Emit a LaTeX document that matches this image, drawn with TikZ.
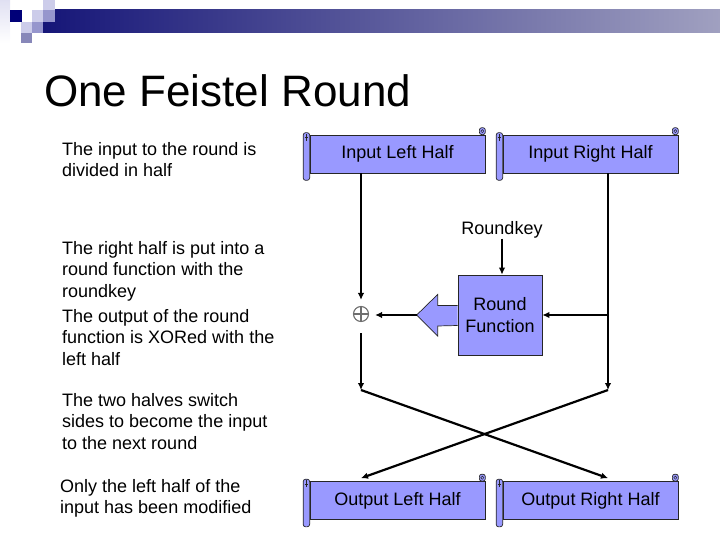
\documentclass[tikz,border=0pt]{standalone}
\usepackage{fontspec}
\setmainfont{Liberation Sans}
\usepackage{tikz}
\usetikzlibrary{arrows.meta, calc, backgrounds}
\usepackage{xcolor}
\definecolor{scrollblue}{RGB}{153,153,255}
\definecolor{barnavy}{RGB}{22,22,120}
\definecolor{bargray}{RGB}{160,160,192}
\definecolor{sqdark}{RGB}{0,0,120}
\definecolor{sqlight}{RGB}{204,204,234}
\definecolor{sqmid}{RGB}{150,150,205}
\definecolor{xorgray}{RGB}{110,110,110}
\tikzstyle{scroll} = [rectangle, minimum width=175pt, minimum height=38pt, inner sep=0pt, text centered, draw=black!85, line width=0.7pt, fill=scrollblue, font=\fontsize{18}{21.6}\selectfont]
\tikzstyle{scrollpart} = [draw=black!85, fill=scrollblue, line width=0.7pt]
\tikzstyle{funcbox} = [rectangle, minimum width=84pt, minimum height=80pt, inner sep=0pt, align=center, draw=black!85, line width=0.7pt, fill=scrollblue, font=\fontsize{18}{21.6}\selectfont]
\tikzstyle{note} = [anchor=north west, align=left, inner sep=0pt, font=\fontsize{18}{21.6}\selectfont]
\tikzstyle{arrow} = [line width=2.2pt,-{Latex[length=7pt,width=6.5pt]}]
\tikzstyle{line} = [line width=2.2pt]
\tikzstyle{xorline} = [draw=xorgray, line width=1.1pt]
\begin{document}
\begin{tikzpicture}[x=1pt, y=-1pt]
\useasboundingbox (0,0) rectangle (720,540);

% Header bar
\shade[left color=barnavy, right color=bargray] (43,10) rectangle (720,33);
\shade[top color=sqlight!60, bottom color=white] (0,0) rectangle (10,43);
\fill[sqdark] (10,10) rectangle (22,22);
\fill[sqlight] (32,10) rectangle (43,22);
\fill[sqlight] (43,0) rectangle (55,10);
\fill[sqmid] (43,10) rectangle (55,22);
\fill[sqlight] (21,22) rectangle (32,33);
\fill[sqmid] (32,22) rectangle (43,33);
\fill[sqmid!90!black] (21,33) rectangle (32,43);

% Title
\node[anchor=base west, inner sep=0pt, font=\fontsize{44}{50}\selectfont] (title) at (44,107) {One Feistel Round};

% Notes on the left
\node[note] (note1) at (62,142) {The input to the round is\\divided in half};
\node[note] (note2) at (62,241) {The right half is put into a\\round function with the\\roundkey};
\node[note] (note3) at (62,309) {The output of the round\\function is XORed with the\\left half};
\node[note] (note4) at (62,393) {The two halves switch\\sides to become the input\\to the next round};
\node[note] (note5) at (60,479) {Only the left half of the\\input has been modified};

% Input halves
\node[scroll] (inleft) at (397.5,154) {Input Left Half};
\node[scroll] (inright) at (590.5,154) {Input Right Half};

% Output halves
\node[scroll] (outleft) at (397.5,500.5) {Output Left Half};
\node[scroll] (outright) at (590.5,500.5) {Output Right Half};

% Scroll ends
\foreach \s in {inleft,inright,outleft,outright}{
  \draw[scrollpart, rounded corners=2.5pt] ([xshift=-6.5pt,yshift=2pt]\s.north west) rectangle ([yshift=-7pt]\s.south west);
  \draw[black!85, line width=0.5pt] ([xshift=-5pt,yshift=-3pt]\s.north west) -- ([xshift=-1.5pt,yshift=-3pt]\s.north west)
    ([xshift=-3.2pt,yshift=1pt]\s.north west) -- ([xshift=-3.2pt,yshift=-6pt]\s.north west);
  \draw[scrollpart, rounded corners=2.5pt] ([xshift=-6pt]\s.north east) rectangle ([yshift=7pt]\s.north east);
  \draw[black!85, line width=0.5pt] ([xshift=-3pt,yshift=3.5pt]\s.north east) circle (1.6pt);
}

% Round function
\node[font=\fontsize{18}{21.6}\selectfont, inner sep=0pt] (rkey) at (502,230) {Roundkey};
\node[funcbox] (rf) at (500,315) {Round\\Function};
\coordinate (rftip) at ([xshift=-41pt]rf.west);
\begin{scope}[on background layer]
\filldraw[scrollpart] ([yshift=9.5pt]rf.west) -- ++(-20,0) -- ++(0,-11) -- (rftip) -- ([xshift=-20pt,yshift=-21pt]rf.west) -- ++(0,-10) -- ([yshift=-10.5pt]rf.west);
\end{scope}

% XOR
\node[circle, minimum size=15pt, inner sep=0pt, xorline] (xor) at (361,314) {};
\draw[xorline] (xor.north) -- (xor.south) (xor.west) -- (xor.east);

% Helper points
\coordinate (rsplit) at (608,315);
\coordinate (lcross) at (361,390);
\coordinate (rcross) at (608,390);

% Connectors
\draw[arrow, shorten >=6pt] (xor |- inleft.south) -- (xor);
\draw[line] (inright.south -| rsplit) -- (rsplit);
\draw[arrow] (rsplit) -- (rf.east);
\draw[arrow] (rkey.south) -- (rkey |- rf.north);
\draw[arrow, shorten >=6pt] (rftip) -- (rftip -| xor.east);
\draw[arrow, shorten <=11pt] (xor) -- (lcross);
\draw[arrow] (rsplit) -- (rcross);
\draw[arrow] (lcross) -- ([yshift=3pt]outright.north -| rcross);
\draw[arrow] (rcross) -- ([yshift=3pt]outleft.north -| lcross);

\end{tikzpicture}
\end{document}
